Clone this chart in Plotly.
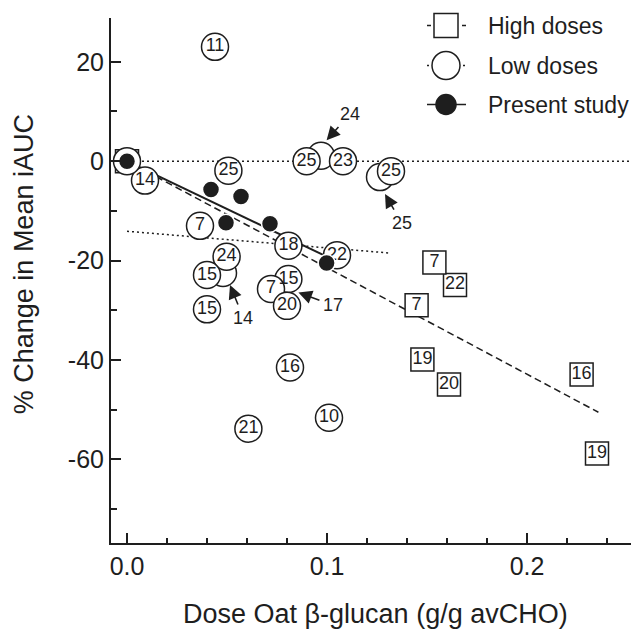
import plotly.graph_objects as go

FONT = "Liberation Sans, Arial, sans-serif"
INK = "#1e1e1e"

# low doses (open circles), label = reference number
low_x = [0.009, 0.0, 0.044, 0.0507, 0.097, 0.0898, 0.108, 0.1265, 0.132,
         0.0365, 0.0807, 0.105, 0.048, 0.0498, 0.040, 0.040,
         0.0807, 0.072, 0.080, 0.0815, 0.101, 0.0607]
low_y = [-3.9, 0.0, 23.0, -1.9, 1.1, 0.0, 0.0, -3.2, -2.0,
         -13.0, -17.0, -18.9, -22.5, -19.2, -22.9, -29.8,
         -23.7, -25.7, -29.1, -41.5, -51.6, -53.8]
low_lbl = ["14", "", "11", "25", "", "25", "23", "", "25",
           "7", "18", "22", "", "24", "15", "15",
           "15", "7", "20", "16", "10", "21"]

# high doses (open squares)
high_x = [0.0, 0.164, 0.1537, 0.1448, 0.1477, 0.161, 0.2273, 0.235]
high_y = [0.0, -24.9, -20.4, -29.0, -39.9, -44.9, -42.9, -58.8]
high_lbl = ["", "22", "7", "7", "19", "20", "16", "19"]

# present study (filled circles)
present_x = [0.0, 0.042, 0.057, 0.0495, 0.0715, 0.0998]
present_y = [0.0, -5.7, -7.1, -12.4, -12.6, -20.5]

# fitted lines
high_fit_x = [0.0, 0.2357]
high_fit_y = [0.0, -50.5]
low_fit_x = [0.0, 0.132]
low_fit_y = [-14.1, -18.5]
present_fit_x = [0.0, 0.102]
present_fit_y = [0.0, -19.6]
zero_x = [0.0, 0.26]
zero_y = [0.0, 0.0]

# arrows pointing at hidden circles: (label, tip x, tip y, label x, label y)
arrow_lbl = ["24", "25", "14", "17"]
arrow_tip_x = [0.0998, 0.129, 0.0515, 0.0857]
arrow_tip_y = [4.2, -6.6, -24.9, -26.4]
arrow_txt_x = [0.1115, 0.1373, 0.0582, 0.1029]
arrow_txt_y = [9.5, -12.4, -31.5, -29.0]

# tick labels (plain hyphen, as in the original)
x_ticks = [0.0, 0.1, 0.2]
x_ticktext = ["0.0", "0.1", "0.2"]
y_ticks = [20, 0, -20, -40, -60]
y_ticktext = ["20", "0", "-20", "-40", "-60"]

fig = go.Figure()

fig.add_trace(go.Scatter(x=zero_x, y=zero_y, mode="lines",
                         line=dict(color=INK, width=1.5, dash="2px,3px")))
fig.add_trace(go.Scatter(x=low_fit_x, y=low_fit_y, mode="lines",
                         line=dict(color=INK, width=1.5, dash="2px,3px")))
fig.add_trace(go.Scatter(x=high_fit_x, y=high_fit_y, mode="lines",
                         line=dict(color=INK, width=1.5, dash="7px,4px")))
fig.add_trace(go.Scatter(x=present_fit_x, y=present_fit_y, mode="lines",
                         line=dict(color=INK, width=2)))

fig.add_trace(go.Scatter(
    x=high_x, y=high_y, mode="markers+text", text=high_lbl,
    textposition="middle center",
    textfont=dict(family=FONT, size=18, color=INK),
    marker=dict(symbol="square", size=23, color="white",
                line=dict(color=INK, width=1.5)),
    cliponaxis=False))

fig.add_trace(go.Scatter(
    x=low_x, y=low_y, mode="markers+text", text=low_lbl,
    textposition="middle center",
    textfont=dict(family=FONT, size=18, color=INK),
    marker=dict(symbol="circle", size=27, color="white",
                line=dict(color=INK, width=1.5)),
    cliponaxis=False))

fig.add_trace(go.Scatter(
    x=present_x, y=present_y, mode="markers",
    marker=dict(symbol="circle", size=17, color=INK,
                line=dict(color="white", width=1.5)),
    cliponaxis=False))

# legend drawn on a hidden overlay axis measured in screen pixels
leg_names = ["High doses", "Low doses", "Present study"]
leg_y = [25.5, 65.5, 104.5]
leg_sym = ["square", "circle", "circle"]
leg_size = [24, 28, 20]
leg_fill = ["white", "white", INK]
leg_dash = ["4px,31px", "2px,34px", "solid"]

for name, yy, sym, sz, fill, dash in zip(leg_names, leg_y, leg_sym, leg_size, leg_fill, leg_dash):
    fig.add_trace(go.Scatter(
        x=[427, 466], y=[yy, yy], mode="lines", xaxis="x2", yaxis="y2",
        line=dict(color=INK, width=1.5, dash=dash), cliponaxis=False))
    fig.add_trace(go.Scatter(
        x=[446], y=[yy], mode="markers", xaxis="x2", yaxis="y2",
        marker=dict(symbol=sym, size=sz, color=fill,
                    line=dict(color=INK, width=1.5)),
        cliponaxis=False))
    fig.add_annotation(x=486, y=yy, xref="x2", yref="y2", text=name,
                       showarrow=False, xanchor="left", yanchor="middle",
                       font=dict(family=FONT, size=23, color=INK))

for lbl, tx, ty, lx, ly in zip(arrow_lbl, arrow_tip_x, arrow_tip_y, arrow_txt_x, arrow_txt_y):
    fig.add_annotation(x=tx, y=ty, ax=lx, ay=ly, xref="x", yref="y",
                       axref="x", ayref="y", text=lbl, showarrow=True,
                       arrowhead=2, arrowsize=1.7, arrowwidth=1.6,
                       arrowcolor=INK, standoff=0, startstandoff=2,
                       font=dict(family=FONT, size=18, color=INK))

# axis titles
fig.add_annotation(x=0.4944, y=-0.135, xref="paper", yref="paper",
                   xanchor="center", yanchor="middle",
                   text="Dose Oat β-glucan (g/g avCHO)", showarrow=False,
                   font=dict(family=FONT, size=27, color=INK))
fig.add_annotation(x=0.0, xref="paper", xanchor="center", xshift=-87,
                   y=0.531, yref="paper", yanchor="middle", textangle=-90,
                   text="% Change in Mean iAUC", showarrow=False,
                   font=dict(family=FONT, size=27, color=INK))

fig.update_layout(
    width=639, height=629,
    margin=dict(l=103, r=0, t=10, b=94, autoexpand=False),
    paper_bgcolor="white", plot_bgcolor="white",
    showlegend=False,
    font=dict(family=FONT, color=INK),
    xaxis=dict(
        range=[-0.008, 0.26], tickvals=x_ticks, ticktext=x_ticktext,
        ticks="inside", ticklen=10, tickwidth=1.5, tickcolor=INK,
        minor=dict(dtick=0.02, tick0=0, ticks="inside", ticklen=5,
                   tickwidth=1.5, tickcolor=INK),
        showline=True, linecolor=INK, linewidth=2, showgrid=False,
        zeroline=False, tickfont=dict(size=25), automargin=False),
    yaxis=dict(
        range=[-76.8, 28.8], tickvals=y_ticks, ticktext=y_ticktext,
        ticks="inside", ticklen=10, tickwidth=1.5, tickcolor=INK,
        minor=dict(dtick=10, tick0=0, ticks="inside", ticklen=6,
                   tickwidth=1.5, tickcolor=INK),
        showline=True, linecolor=INK, linewidth=2, showgrid=False,
        zeroline=False, tickfont=dict(size=25), automargin=False),
    xaxis2=dict(overlaying="x", range=[111, 647], visible=False),
    yaxis2=dict(overlaying="y", range=[543, 18], visible=False),
)

fig.write_html("out.html")
